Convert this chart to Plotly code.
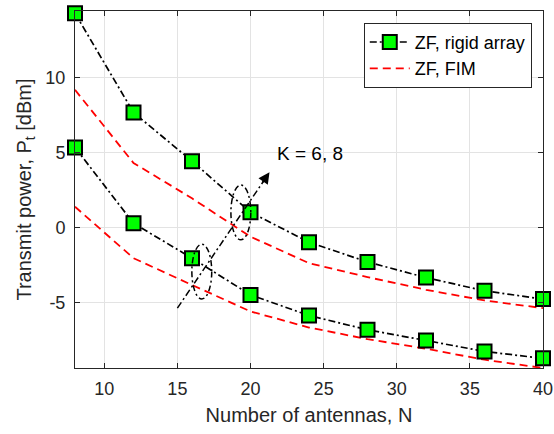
import plotly.graph_objects as go

N = [8, 12, 16, 20, 24, 28, 32, 36, 40]
zf_rigid_K8 = [14.25, 7.65, 4.42, 1.02, -0.97, -2.28, -3.32, -4.20, -4.75]
zf_rigid_K6 = [5.33, 0.29, -2.03, -4.47, -5.84, -6.79, -7.50, -8.23, -8.69]
zf_fim_K8 = [9.16, 4.30, 1.95, -0.60, -2.36, -3.29, -4.13, -4.84, -5.35]
zf_fim_K6 = [1.39, -2.03, -3.81, -5.57, -6.64, -7.41, -8.05, -8.78, -9.33]

x_ticks = [10, 15, 20, 25, 30, 35, 40]
y_ticks = [-5, 0, 5, 10]
y_ticktext = ["-5", "0", "5", "10"]

FONT = "Liberation Sans, Arial, Helvetica, sans-serif"
TXT = "#262626"
BLACK_DASH = "7px,3px,2px,3px"
RED_DASH = "8px,5px"

fig = go.Figure()

def rigid(y, show):
    fig.add_trace(go.Scatter(
        x=N, y=y, mode="lines+markers", name="ZF, rigid array",
        showlegend=show, legendrank=1, cliponaxis=False,
        line=dict(color="black", width=1.7, dash=BLACK_DASH),
        marker=dict(symbol="square", size=14, color="#00ff00",
                    line=dict(color="black", width=2)),
    ))

def fim(y, show):
    fig.add_trace(go.Scatter(
        x=N, y=y, mode="lines", name="ZF, FIM",
        showlegend=show, legendrank=2,
        line=dict(color="#ff0000", width=1.8, dash=RED_DASH),
    ))

fim(zf_fim_K8, True)
fim(zf_fim_K6, False)
rigid(zf_rigid_K8, True)
rigid(zf_rigid_K6, False)

# ellipses
for xc, yc in [(16.67, -2.92), (19.34, 1.01)]:
    fig.add_shape(type="circle", xref="x", yref="y",
                  x0=xc - 0.68, x1=xc + 0.68, y0=yc - 1.82, y1=yc + 1.82,
                  line=dict(color="black", width=1.5, dash="6px,3px,2px,3px"))

# arrow
fig.add_shape(type="line", xref="x", yref="y", x0=15.0, y0=-5.35, x1=20.9, y1=3.1,
              line=dict(color="black", width=1.5, dash="7px,3px,2px,3px"))
fig.add_annotation(x=21.3, y=3.68, ax=20.75, ay=2.9, xref="x", yref="y",
                   axref="x", ayref="y", text="", showarrow=True,
                   arrowhead=2, arrowsize=1.5, arrowwidth=1.5, arrowcolor="black")
fig.add_annotation(x=21.65, y=4.95, xref="x", yref="y", text="K = 6, 8",
                   showarrow=False, xanchor="left", yanchor="middle",
                   font=dict(family=FONT, size=19, color="black"))

axis_common = dict(
    showgrid=True, gridcolor="#e3e3e3", gridwidth=1, automargin=False,
    showline=True, linecolor="#262626", linewidth=1, mirror="ticks",
    ticks="inside", ticklen=5, tickcolor="#262626", tickwidth=1,
    zeroline=False, tickfont=dict(family=FONT, size=18, color=TXT),
)

fig.update_layout(
    width=554, height=434,
    margin=dict(l=75, r=11, t=11, b=66),
    plot_bgcolor="white", paper_bgcolor="white",
    font=dict(family=FONT, color=TXT),
    xaxis=dict(range=[8, 40], tickvals=x_ticks, ticklabelstandoff=4,
               title=dict(text="Number of antennas, N", standoff=10,
                          font=dict(family=FONT, size=20, color=TXT)),
               **axis_common),
    yaxis=dict(range=[-9.33, 14.4], tickvals=y_ticks, ticktext=y_ticktext,
               ticklabelstandoff=5,
               title=dict(text="Transmit power, P<sub>t</sub> [dBm]", standoff=8,
                          font=dict(family=FONT, size=20, color=TXT)),
               **axis_common),
    legend=dict(x=0.976, y=0.967, xanchor="right", yanchor="top",
                bgcolor="white", bordercolor="#262626", borderwidth=1,
                font=dict(family=FONT, size=18, color="black"),
                tracegroupgap=0, itemwidth=40,
                traceorder="normal"),
    showlegend=True,
)

fig.write_html("out.html", config={"displayModeBar": False},
               post_script="document.body.style.margin='0';document.body.style.overflow='hidden';")
